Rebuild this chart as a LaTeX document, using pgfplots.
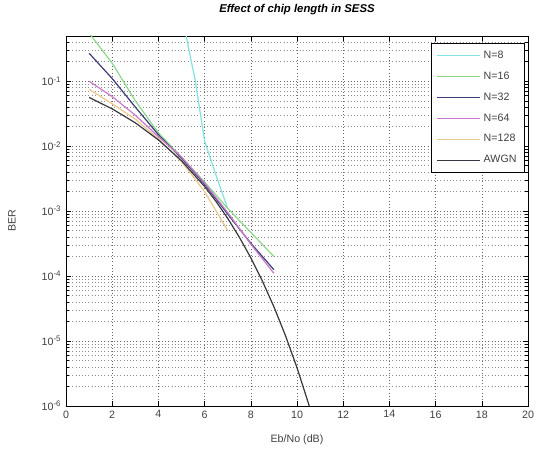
\documentclass[border=0pt]{standalone}
\usepackage{fontspec}
\setmainfont{Liberation Sans}
\usepackage{pgfplots}
\pgfplotsset{compat=1.18}
\usetikzlibrary{calc}
\definecolor{cN8}{RGB}{130,225,225}
\definecolor{cN16}{RGB}{140,215,140}
\definecolor{cN32}{RGB}{60,60,120}
\definecolor{cN64}{RGB}{200,120,200}
\definecolor{cN128}{RGB}{235,200,140}
\definecolor{cAW}{RGB}{55,55,65}
\begin{document}
\begin{tikzpicture}
\begin{axis}[
  scale only axis, width=346.5pt, height=277.5pt,
  xmin=0, xmax=20, ymode=log, ymin=1e-6, ymax=0.5,
  xtick={0,2,...,20},
  ytick={1e-6,1e-5,1e-4,1e-3,1e-2,1e-1},
  yticklabels={10\textsuperscript{-6},10\textsuperscript{-5},10\textsuperscript{-4},10\textsuperscript{-3},10\textsuperscript{-2},10\textsuperscript{-1}},
  minor ytick={2e-6,3e-6,4e-6,5e-6,6e-6,7e-6,8e-6,9e-6,
               2e-5,3e-5,4e-5,5e-5,6e-5,7e-5,8e-5,9e-5,
               2e-4,3e-4,4e-4,5e-4,6e-4,7e-4,8e-4,9e-4,
               2e-3,3e-3,4e-3,5e-3,6e-3,7e-3,8e-3,9e-3,
               2e-2,3e-2,4e-2,5e-2,6e-2,7e-2,8e-2,9e-2,
               0.2,0.3,0.4},
  grid=both,
  major grid style={dotted, black!60, line width=0.45pt},
  minor grid style={dotted, black!45, line width=0.4pt},
  tick align=inside,
  major tick length=4pt, minor tick length=2pt,
  every tick/.style={black, line width=0.4pt},
  axis line style={black, line width=0.5pt},
  /pgf/number format/assume math mode=true,
  tick label style={font=\fontsize{8}{9.5}\selectfont, text=black!75},
  title={\bfseries\itshape Effect of chip length in SESS},
  title style={at={(axis description cs:0.5,1.049)}, anchor=center, font=\fontsize{8.5}{10}\selectfont},
  xlabel={Eb/No (dB)},
  ylabel={BER},
  every axis x label/.style={at={(axis description cs:0.5,-0.092)}, anchor=center, font=\fontsize{8}{9.5}\selectfont, text=black!75},
  every axis y label/.style={at={(axis description cs:-0.117,0.5)}, anchor=center, rotate=90, font=\fontsize{8}{9.5}\selectfont, text=black!75},
  legend style={at={(0.993,0.98)}, anchor=north east, draw=black, fill=white,
    font=\fontsize{8}{9.5}\selectfont, text=black!75, row sep=4.6pt, inner xsep=4pt, inner ysep=3.5pt},
  legend cell align=left,
  legend image code/.code={\draw[#1] (0cm,0cm) -- (1.15cm,0cm);},
  every axis plot/.append style={line width=0.9pt},
]
\addplot[cN8] coordinates {(5.2,0.5) (5.6,0.1) (6,0.012) (6.5,3.5e-3) (7,1.1e-3)};
\addlegendentry{N=8}
\addplot[cN16] coordinates {(1,0.55) (2,0.19) (3,0.05) (4,0.016) (5,0.0068) (6,0.0028) (7,1.1e-3) (8,4.7e-4) (9,2e-4)};
\addlegendentry{N=16}
\addplot[cN32] coordinates {(1,0.27) (2,0.11) (3,0.04) (4,0.015) (5,0.0065) (6,0.0026) (7,9e-4) (8,3.2e-4) (9,1.25e-4)};
\addlegendentry{N=32}
\addplot[cN64] coordinates {(1,0.1) (2,0.058) (3,0.03) (4,0.014) (5,0.0068) (6,0.0027) (7,9.5e-4) (8,3.1e-4) (9,1.1e-4)};
\addlegendentry{N=64}
\addplot[cN128] coordinates {(1,0.075) (2,0.045) (3,0.026) (4,0.013) (5,0.0058) (6,0.002) (7,5e-4)};
\addlegendentry{N=128}
\addplot[cAW] coordinates {(1,0.0563) (2,0.0375) (3,0.0229) (4,0.0125) (5,0.00595) (6,0.00239) (6.5,1.4e-3) (7,7.73e-4) (7.5,3.98e-4) (8,1.91e-4) (8.5,8.4e-5) (9,3.36e-5) (9.5,1.21e-5) (10,3.87e-6) (10.5,1.08e-6) (11,2.6e-7)};
\addlegendentry{AWGN}
\end{axis}
\path[use as bounding box] ($(current axis.south west)+(-49.5pt,-33pt)$) rectangle ($(current axis.north east)+(18pt,21pt)$);
\end{tikzpicture}
\end{document}
